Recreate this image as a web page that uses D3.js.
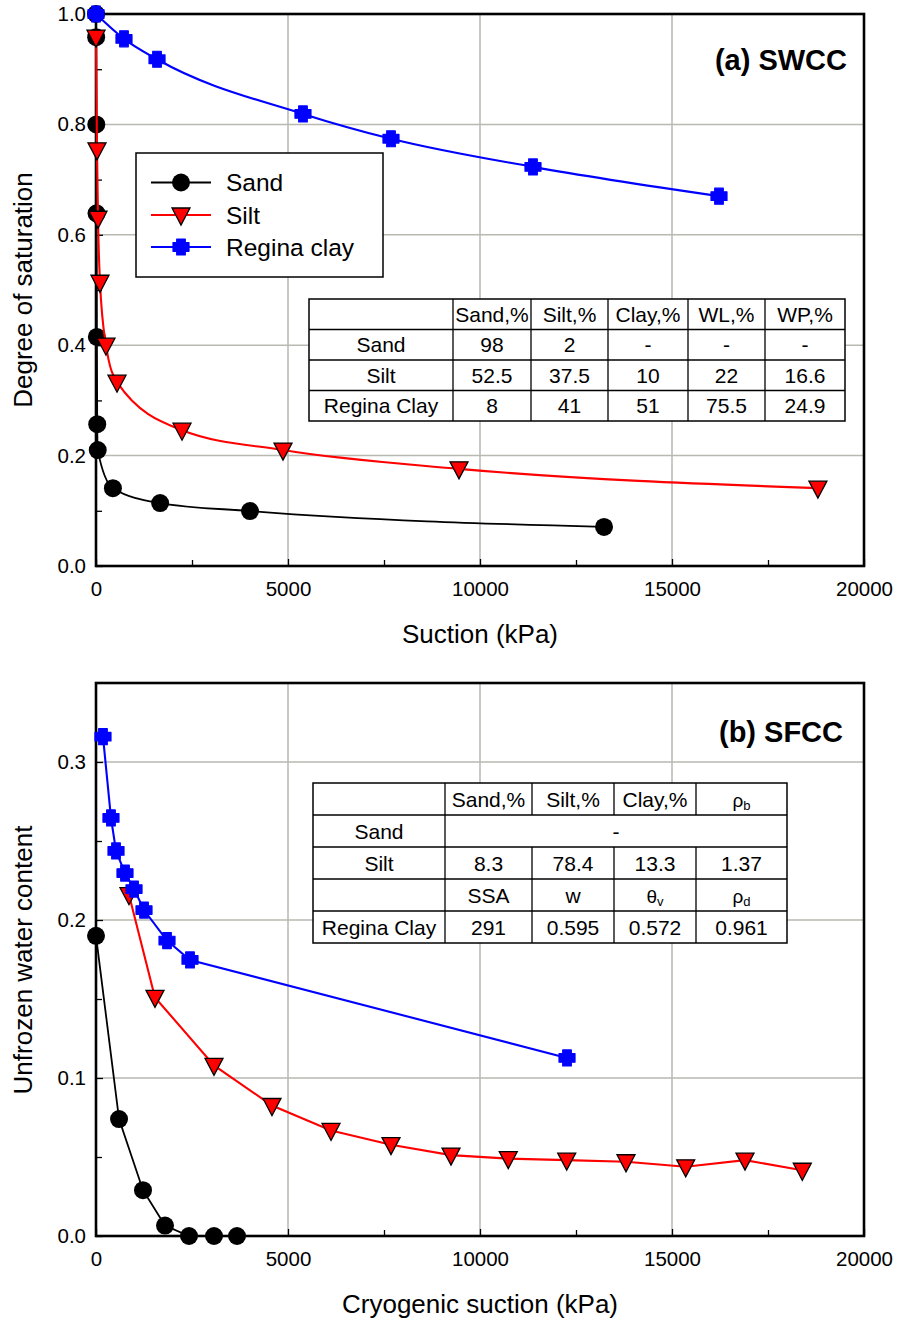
<!DOCTYPE html>
<html>
<head>
<meta charset="utf-8">
<script src="https://cdn.jsdelivr.net/npm/d3@7/dist/d3.min.js"></script>
<style>
  html, body { margin: 0; padding: 0; background: #fff; }
  svg { display: block; font-family: "Liberation Sans", Arial, sans-serif; }
</style>
</head>
<body>
<svg id="chart" width="898" height="1322"></svg>
<script>
// ---- Panel (a): soil-water characteristic curves ----
const swccSandSuction = [0, 4, 8, 14, 22, 32, 45, 440, 1670, 4010, 13230];
const swccSandSat     = [1.0, 0.958, 0.80, 0.639, 0.415, 0.257, 0.21, 0.141, 0.114, 0.0996, 0.0707];
const swccSiltSuction = [0, 26, 52, 104, 260, 547, 2240, 4870, 9453, 18800];
const swccSiltSat     = [0.958, 0.754, 0.63, 0.514, 0.40, 0.333, 0.246, 0.21, 0.176, 0.141];
const swccClaySuction = [0, 729, 1589, 5390, 7682, 11380, 16224];
const swccClaySat     = [1.0, 0.955, 0.918, 0.819, 0.774, 0.723, 0.670];

// ---- Panel (b): soil-freezing characteristic curves ----
const sfccSandSuction = [0, 600, 1224, 1797, 2422, 3073, 3672];
const sfccSandWater   = [0.19, 0.074, 0.029, 0.0066, 0, 0, 0];
const sfccSiltSuction = [859, 1536, 3073, 4583, 6120, 7682, 9245, 10736, 12258, 13802, 15357, 16901, 18393];
const sfccSiltWater   = [0.216, 0.151, 0.108, 0.0826, 0.0668, 0.0578, 0.0512, 0.049, 0.048, 0.047, 0.0438, 0.048, 0.0416];
const sfccClaySuction = [182, 390, 521, 755, 990, 1250, 1849, 2448, 12266];
const sfccClayWater   = [0.316, 0.2646, 0.2437, 0.2297, 0.2196, 0.2063, 0.187, 0.1747, 0.1127];

// ---- Series names, axis ticks ----
const seriesNames = ["Sand", "Silt", "Regina clay"];
const xMajorTicks = [0, 5000, 10000, 15000, 20000];
const xMinorTicks = [2500, 7500, 12500, 17500];
const yMajorTicksA = [0, 0.2, 0.4, 0.6, 0.8, 1.0];
const yMinorTicksA = [0.1, 0.3, 0.5, 0.7, 0.9];
const yMajorTicksB = [0, 0.1, 0.2, 0.3];
const yMinorTicksB = [0.05, 0.15, 0.25];

// ---- Inset tables ----
const tableAHeader = ["", "Sand,%", "Silt,%", "Clay,%", "WL,%", "WP,%"];
const tableARows = [
  ["Sand", "98", "2", "-", "-", "-"],
  ["Silt", "52.5", "37.5", "10", "22", "16.6"],
  ["Regina Clay", "8", "41", "51", "75.5", "24.9"]
];
const tableBHeader = ["", "Sand,%", "Silt,%", "Clay,%", ["ρ", "b"]];
const tableBSandRow = ["Sand", "-"];
const tableBSiltRow = ["Silt", "8.3", "78.4", "13.3", "1.37"];
const tableBClayHeader = ["", "SSA", "w", ["θ", "v"], ["ρ", "d"]];
const tableBClayRow = ["Regina Clay", "291", "0.595", "0.572", "0.961"];

const colors = ["#000000", "#ff0000", "#0000ff"];
const GRID = "#b9b9b1";

const svg = d3.select("#chart");
svg.append("rect").attr("width", 898).attr("height", 1322).attr("fill", "#fff");

// marker shapes
function drawMarker(g, kind, x, y) {
  if (kind === 0) {
    g.append("circle").attr("cx", x).attr("cy", y).attr("r", 9).attr("fill", "#000");
  } else if (kind === 1) {
    g.append("path")
      .attr("d", `M${x - 9},${y - 7}L${x + 9},${y - 7}L${x},${y + 10}Z`)
      .attr("fill", "#ff0000").attr("stroke", "#000").attr("stroke-width", 1.3)
      .attr("stroke-linejoin", "miter");
  } else {
    const a = 8, b = 4.3;
    const p = [[-b,-a],[b,-a],[b,-b],[a,-b],[a,b],[b,b],[b,a],[-b,a],[-b,b],[-a,b],[-a,-b],[-b,-b]];
    g.append("path")
      .attr("d", "M" + p.map(q => `${x + q[0]},${y + q[1]}`).join("L") + "Z")
      .attr("fill", "#0000ff").attr("stroke", "#0000ff").attr("stroke-width", 1.2)
      .attr("stroke-linejoin", "round");
  }
}

function panel(opts) {
  const { x, y, yMajor, yMinor, yFmt, series, curve, title, titleX, titleY, xTitle, xTitleY, yTitle, yTitleCenter } = opts;
  const g = svg.append("g");
  const [x0, x1] = x.range();
  const [yb, yt] = y.range();

  // grid
  g.append("g").selectAll("line").data(xMajorTicks.slice(1, -1)).join("line")
    .attr("x1", d => x(d)).attr("x2", d => x(d)).attr("y1", yb).attr("y2", yt)
    .attr("stroke", GRID).attr("stroke-width", 1.5);
  g.append("g").selectAll("line").data(yMajor.slice(1).filter(v => y(v) > yt + 1)).join("line")
    .attr("x1", x0).attr("x2", x1).attr("y1", d => y(d)).attr("y2", d => y(d))
    .attr("stroke", GRID).attr("stroke-width", 1.5);

  // ticks (inside) and labels
  const xAx = g.append("g").attr("transform", `translate(0,${yb})`)
    .call(d3.axisBottom(x).tickValues(xMajorTicks).tickSize(-7).tickPadding(15.5).tickFormat(d3.format("d")));
  const xAxm = g.append("g").attr("transform", `translate(0,${yb})`)
    .call(d3.axisBottom(x).tickValues(xMinorTicks).tickSize(-6).tickFormat(""));
  const yAx = g.append("g").attr("transform", `translate(${x0},0)`)
    .call(d3.axisLeft(y).tickValues(yMajor).tickSize(-7).tickPadding(10).tickFormat(yFmt));
  const yAxm = g.append("g").attr("transform", `translate(${x0},0)`)
    .call(d3.axisLeft(y).tickValues(yMinor).tickSize(-6).tickFormat(""));
  [xAx, xAxm, yAx, yAxm].forEach(a => {
    a.select(".domain").remove();
    a.selectAll("line").attr("stroke", "#000").attr("stroke-width", 1.3);
    a.selectAll("text").attr("font-size", 20.5).attr("fill", "#000")
      .attr("font-family", "'Liberation Sans', Arial, sans-serif");
  });

  // frame
  g.append("rect").attr("x", x0).attr("y", yt).attr("width", x1 - x0).attr("height", yb - yt)
    .attr("fill", "none").attr("stroke", "#000").attr("stroke-width", 2.6);

  // series
  const line = d3.line().x(d => x(d[0])).y(d => y(d[1])).curve(curve);
  series.forEach((s, i) => {
    const pts = s.xs.map((v, k) => [v, s.ys[k]]);
    const sg = g.append("g");
    sg.append("path").attr("d", line(pts)).attr("fill", "none")
      .attr("stroke", colors[i]).attr("stroke-width", i === 0 ? 1.8 : 2.1);
    pts.forEach(p => drawMarker(sg, i, x(p[0]), y(p[1])));
  });

  // titles
  g.append("text").attr("x", titleX).attr("y", titleY).attr("text-anchor", "end")
    .attr("font-size", 29).attr("font-weight", "bold").text(title);
  g.append("text").attr("x", (x0 + x1) / 2).attr("y", xTitleY).attr("text-anchor", "middle")
    .attr("font-size", 26).text(xTitle);
  g.append("text").attr("transform", `translate(32,${yTitleCenter}) rotate(-90)`)
    .attr("text-anchor", "middle").attr("font-size", 26).text(yTitle);
  return g;
}

const xA = d3.scaleLinear().domain([0, 20000]).range([96, 864]);
const yA = d3.scaleLinear().domain([0, 1]).range([566, 14]);
const xB = d3.scaleLinear().domain([0, 20000]).range([96, 864]);
const yB = d3.scaleLinear().domain([0, 0.35]).range([1236, 683]);

const gA = panel({
  x: xA, y: yA, yMajor: yMajorTicksA, yMinor: yMinorTicksA, yFmt: d3.format(".1f"),
  series: [
    { xs: swccSandSuction, ys: swccSandSat },
    { xs: swccSiltSuction, ys: swccSiltSat },
    { xs: swccClaySuction, ys: swccClaySat }
  ],
  curve: d3.curveMonotoneX,
  title: "(a) SWCC", titleX: 847, titleY: 70,
  xTitle: "Suction (kPa)", xTitleY: 643,
  yTitle: "Degree of saturation", yTitleCenter: 290
});

const gB = panel({
  x: xB, y: yB, yMajor: yMajorTicksB, yMinor: yMinorTicksB, yFmt: d3.format(".1f"),
  series: [
    { xs: sfccSandSuction, ys: sfccSandWater },
    { xs: sfccSiltSuction, ys: sfccSiltWater },
    { xs: sfccClaySuction, ys: sfccClayWater }
  ],
  curve: d3.curveLinear,
  title: "(b) SFCC", titleX: 843, titleY: 742,
  xTitle: "Cryogenic suction (kPa)", xTitleY: 1313,
  yTitle: "Unfrozen water content", yTitleCenter: 960
});

// ---- legend (panel a) ----
const leg = gA.append("g");
leg.append("rect").attr("x", 136).attr("y", 153).attr("width", 247).attr("height", 124)
  .attr("fill", "#fff").attr("stroke", "#000").attr("stroke-width", 1.5);
const legRowY = [182.5, 215, 247];
seriesNames.forEach((name, i) => {
  const ly = legRowY[i];
  leg.append("line").attr("x1", 151).attr("x2", 211).attr("y1", ly).attr("y2", ly)
    .attr("stroke", colors[i]).attr("stroke-width", 2);
  drawMarker(leg, i, 181, ly);
  leg.append("text").attr("x", 226).attr("y", ly + 8.5).attr("font-size", 24.5).text(name);
});

// ---- table helpers ----
function cellText(g, cx, baseY, content) {
  const t = g.append("text").attr("x", cx).attr("y", baseY).attr("text-anchor", "middle")
    .attr("font-size", 21);
  if (Array.isArray(content)) {
    t.append("tspan").attr("font-size", 19).text(content[0]);
    t.append("tspan").attr("font-size", 13).attr("dy", 3).text(content[1]);
  } else {
    t.text(content);
  }
}

// table (a)
(function () {
  const g = gA.append("g");
  const x0 = 309, y0 = 299, rowH = 30.5;
  const widths = [144, 78, 77, 80, 77, 80];
  const edges = [x0];
  widths.forEach(w => edges.push(edges[edges.length - 1] + w));
  const rows = [tableAHeader, ...tableARows];
  const totalW = edges[edges.length - 1] - x0, totalH = rowH * rows.length;
  g.append("rect").attr("x", x0).attr("y", y0).attr("width", totalW).attr("height", totalH)
    .attr("fill", "#fff").attr("stroke", "#000").attr("stroke-width", 1.5);
  for (let r = 1; r < rows.length; r++)
    g.append("line").attr("x1", x0).attr("x2", x0 + totalW).attr("y1", y0 + r * rowH).attr("y2", y0 + r * rowH)
      .attr("stroke", "#000").attr("stroke-width", 1.3);
  edges.slice(1, -1).forEach(e =>
    g.append("line").attr("x1", e).attr("x2", e).attr("y1", y0).attr("y2", y0 + totalH)
      .attr("stroke", "#000").attr("stroke-width", 1.3));
  rows.forEach((row, r) => row.forEach((c, k) =>
    cellText(g, (edges[k] + edges[k + 1]) / 2, y0 + r * rowH + rowH / 2 + 7.5, c)));
})();

// table (b)
(function () {
  const g = gB.append("g");
  const x0 = 313, y0 = 783, rowH = 32;
  const widths = [132, 87, 82, 82, 91];
  const edges = [x0];
  widths.forEach(w => edges.push(edges[edges.length - 1] + w));
  const rows = [tableBHeader, tableBSandRow, tableBSiltRow, tableBClayHeader, tableBClayRow];
  const totalW = edges[edges.length - 1] - x0, totalH = rowH * rows.length;
  g.append("rect").attr("x", x0).attr("y", y0).attr("width", totalW).attr("height", totalH)
    .attr("fill", "#fff").attr("stroke", "#000").attr("stroke-width", 1.5);
  for (let r = 1; r < rows.length; r++)
    g.append("line").attr("x1", x0).attr("x2", x0 + totalW).attr("y1", y0 + r * rowH).attr("y2", y0 + r * rowH)
      .attr("stroke", "#000").attr("stroke-width", 1.3);
  // first column divider spans every row; the others skip the merged Sand row
  g.append("line").attr("x1", edges[1]).attr("x2", edges[1]).attr("y1", y0).attr("y2", y0 + totalH)
    .attr("stroke", "#000").attr("stroke-width", 1.3);
  edges.slice(2, -1).forEach(e => {
    g.append("line").attr("x1", e).attr("x2", e).attr("y1", y0).attr("y2", y0 + rowH)
      .attr("stroke", "#000").attr("stroke-width", 1.3);
    g.append("line").attr("x1", e).attr("x2", e).attr("y1", y0 + 2 * rowH).attr("y2", y0 + totalH)
      .attr("stroke", "#000").attr("stroke-width", 1.3);
  });
  rows.forEach((row, r) => {
    const by = y0 + r * rowH + rowH / 2 + 7.5;
    if (row.length === 2) {
      cellText(g, (edges[0] + edges[1]) / 2, by, row[0]);
      cellText(g, (edges[1] + edges[edges.length - 1]) / 2, by, row[1]);
    } else {
      row.forEach((c, k) => cellText(g, (edges[k] + edges[k + 1]) / 2, by, c));
    }
  });
})();
</script>
</body>
</html>
